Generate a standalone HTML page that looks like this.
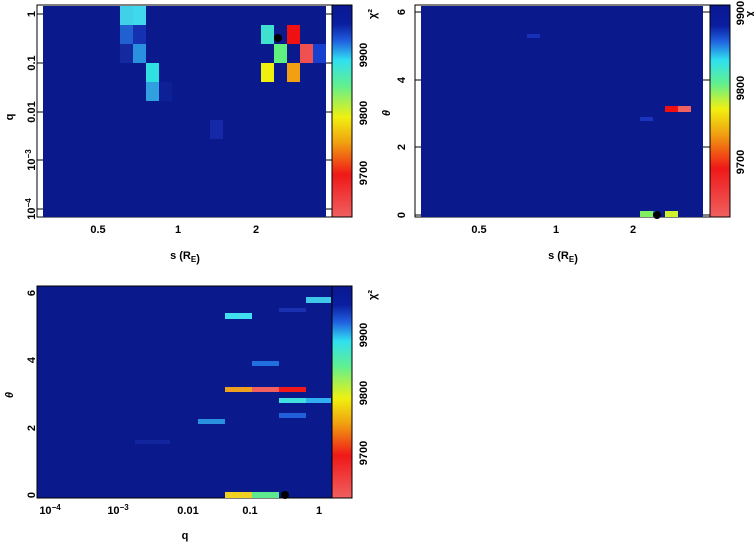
<!DOCTYPE html>
<html><head><meta charset="utf-8"><style>
body{margin:0;background:#fff;width:754px;height:542px;overflow:hidden}
svg text{font-family:"Liberation Sans",sans-serif;font-weight:bold;font-size:11px;fill:#000}
</style></head><body>
<svg width="754" height="542" viewBox="0 0 754 542" xmlns="http://www.w3.org/2000/svg">
<defs>
<linearGradient id="cb1" x1="0" y1="0" x2="0" y2="1">
<stop offset="0" stop-color="#0a1890"/><stop offset="0.09" stop-color="#0a1ea0"/>
<stop offset="0.17" stop-color="#2060e0"/><stop offset="0.26" stop-color="#30e0f0"/>
<stop offset="0.38" stop-color="#60f090"/><stop offset="0.53" stop-color="#f0f010"/>
<stop offset="0.65" stop-color="#f0a010"/><stop offset="0.8" stop-color="#f01818"/>
<stop offset="1" stop-color="#f06060"/></linearGradient>
<linearGradient id="cb2" x1="0" y1="0" x2="0" y2="1">
<stop offset="0" stop-color="#0a1890"/><stop offset="0.1" stop-color="#0a1ea0"/>
<stop offset="0.17" stop-color="#2060e0"/><stop offset="0.26" stop-color="#30e0f0"/>
<stop offset="0.37" stop-color="#60f090"/><stop offset="0.49" stop-color="#f0f010"/>
<stop offset="0.61" stop-color="#f0a010"/><stop offset="0.77" stop-color="#f01818"/>
<stop offset="1" stop-color="#f06060"/></linearGradient>
</defs>
<!-- Panel 1 -->
<rect x="37" y="5" width="295" height="212" fill="#fff" stroke="#000"/>
<rect x="43" y="6" width="283" height="211" fill="#0a1a8c"/>
<rect x="120" y="6" width="13" height="19" fill="#40d0e8"/><rect x="133" y="6" width="13" height="19" fill="#40d8ec"/>
<rect x="120" y="25" width="13" height="19" fill="#2060d0"/><rect x="133" y="25" width="13" height="19" fill="#1530b0"/>
<rect x="120" y="44" width="13" height="19" fill="#1428a0"/><rect x="133" y="44" width="13" height="19" fill="#2a90e0"/>
<rect x="146" y="63" width="13" height="19" fill="#30e0e0"/><rect x="146" y="82" width="13" height="19" fill="#30a0e0"/>
<rect x="159" y="82" width="13" height="19" fill="#0e2095"/>
<rect x="210" y="120" width="13" height="19" fill="#1428a8"/>
<rect x="261" y="25" width="13" height="19" fill="#40e0d0"/><rect x="287" y="25" width="13" height="19" fill="#f01010"/>
<rect x="274" y="44" width="13" height="19" fill="#60f080"/><rect x="300" y="44" width="13" height="19" fill="#f05050"/><rect x="313" y="44" width="13" height="19" fill="#1840d0"/>
<rect x="261" y="63" width="13" height="19" fill="#f0f010"/><rect x="287" y="63" width="13" height="19" fill="#f0a010"/>
<circle cx="278" cy="38" r="4" fill="#000"/>
<rect x="332" y="5" width="20" height="212" fill="url(#cb1)" stroke="#000"/>
<g stroke="#000"><line x1="37" y1="14" x2="43" y2="14"/><line x1="37" y1="63" x2="43" y2="63"/><line x1="37" y1="112" x2="43" y2="112"/><line x1="37" y1="160" x2="43" y2="160"/><line x1="37" y1="209" x2="43" y2="209"/>
<line x1="326" y1="14" x2="332" y2="14"/><line x1="326" y1="63" x2="332" y2="63"/><line x1="326" y1="112" x2="332" y2="112"/><line x1="326" y1="160" x2="332" y2="160"/><line x1="326" y1="209" x2="332" y2="209"/></g>
<g text-anchor="middle">
<text transform="translate(31,14) rotate(-90)" dy="4">1</text>
<text transform="translate(31,63) rotate(-90)" dy="4">0.1</text>
<text transform="translate(31,112) rotate(-90)" dy="4">0.01</text>
<text transform="translate(31,160) rotate(-90)" dy="4">10<tspan font-size="8" dy="-4">−3</tspan></text>
<text transform="translate(31,209) rotate(-90)" dy="4">10<tspan font-size="8" dy="-4">−4</tspan></text>
<text transform="translate(9,117) rotate(-90)" dy="4">q</text>
<text x="98" y="233">0.5</text><text x="178" y="233">1</text><text x="256" y="233">2</text>
<text x="185" y="259">s (R<tspan font-size="8" dy="3">E</tspan>)</text>
<text transform="translate(363,55) rotate(-90)" dy="4" font-size="9">9900</text>
<text transform="translate(363,113) rotate(-90)" dy="4" font-size="9">9800</text>
<text transform="translate(363,173) rotate(-90)" dy="4" font-size="9">9700</text>
<text transform="translate(372,14) rotate(-90)" dy="4">χ²</text>
</g>
<!-- Panel 2 -->
<rect x="415" y="5" width="295" height="212" fill="#fff" stroke="#000"/>
<rect x="421" y="6" width="282" height="211" fill="#0a1a8c"/>
<rect x="527" y="34" width="13" height="4" fill="#1830b8"/>
<rect x="640" y="117" width="13" height="4" fill="#1a34c0"/>
<rect x="665" y="106" width="13" height="6" fill="#f01010"/><rect x="678" y="106" width="13" height="6" fill="#f06060"/>
<rect x="640" y="211" width="13" height="6" fill="#80f060"/><rect x="653" y="211" width="5" height="6" fill="#2080e0"/><rect x="665" y="211" width="13" height="6" fill="#d0f030"/>
<circle cx="657" cy="215" r="4" fill="#000"/>
<rect x="710" y="5" width="20" height="212" fill="url(#cb2)" stroke="#000"/>
<g stroke="#000"><line x1="415" y1="12" x2="421" y2="12"/><line x1="415" y1="80" x2="421" y2="80"/><line x1="415" y1="147" x2="421" y2="147"/><line x1="415" y1="215" x2="421" y2="215"/>
<line x1="703" y1="12" x2="710" y2="12"/><line x1="703" y1="80" x2="710" y2="80"/><line x1="703" y1="147" x2="710" y2="147"/><line x1="703" y1="215" x2="710" y2="215"/></g>
<g text-anchor="middle">
<text transform="translate(401,12) rotate(-90)" dy="4">6</text>
<text transform="translate(401,80) rotate(-90)" dy="4">4</text>
<text transform="translate(401,147) rotate(-90)" dy="4">2</text>
<text transform="translate(401,215) rotate(-90)" dy="4">0</text>
<text transform="translate(386,113) rotate(-90)" dy="4" font-style="italic">θ</text>
<text x="479" y="233">0.5</text><text x="556" y="233">1</text><text x="633" y="233">2</text>
<text x="563" y="259">s (R<tspan font-size="8" dy="3">E</tspan>)</text>
<text transform="translate(740,13) rotate(-90)" dy="4" font-size="9">9900</text>
<text transform="translate(740,88) rotate(-90)" dy="4" font-size="9">9800</text>
<text transform="translate(740,162) rotate(-90)" dy="4" font-size="9">9700</text>
<text transform="translate(749,14) rotate(-90)" dy="4">χ</text>
</g>
<!-- Panel 3 -->
<rect x="37" y="286" width="295" height="212" fill="#0a1a8c" stroke="#000"/>
<rect x="306" y="297" width="25" height="6" fill="#40c8e8"/>
<rect x="279" y="308" width="27" height="4" fill="#1a30b0"/>
<rect x="225" y="313" width="27" height="6" fill="#40e0f0"/>
<rect x="252" y="361" width="27" height="5" fill="#2070e0"/>
<rect x="225" y="387" width="27" height="5" fill="#f0a020"/><rect x="252" y="387" width="27" height="5" fill="#f06060"/><rect x="279" y="387" width="27" height="5" fill="#f01818"/>
<rect x="279" y="398" width="27" height="5" fill="#40e0e0"/><rect x="306" y="398" width="25" height="5" fill="#30b0f0"/>
<rect x="279" y="413" width="27" height="5" fill="#2060d8"/>
<rect x="198" y="419" width="27" height="5" fill="#2a90e0"/>
<rect x="135" y="440" width="35" height="4" fill="#12259c"/>
<rect x="225" y="492" width="27" height="6" fill="#f0d020"/><rect x="252" y="492" width="27" height="6" fill="#60e890"/>
<circle cx="285" cy="495" r="4" fill="#000"/>
<rect x="332" y="286" width="20" height="212" fill="url(#cb1)" stroke="#000"/>
<g text-anchor="middle">
<text transform="translate(31,293) rotate(-90)" dy="4">6</text>
<text transform="translate(31,360) rotate(-90)" dy="4">4</text>
<text transform="translate(31,428) rotate(-90)" dy="4">2</text>
<text transform="translate(31,495) rotate(-90)" dy="4">0</text>
<text transform="translate(9,395) rotate(-90)" dy="4" font-style="italic">θ</text>
<text x="50" y="514">10<tspan font-size="8" dy="-4">−4</tspan></text>
<text x="118" y="514">10<tspan font-size="8" dy="-4">−3</tspan></text>
<text x="188" y="514">0.01</text><text x="250" y="514">0.1</text><text x="319" y="514">1</text>
<text x="185" y="539">q</text>
<text transform="translate(363,335) rotate(-90)" dy="4" font-size="9">9900</text>
<text transform="translate(363,393) rotate(-90)" dy="4" font-size="9">9800</text>
<text transform="translate(363,453) rotate(-90)" dy="4" font-size="9">9700</text>
<text transform="translate(372,295) rotate(-90)" dy="4">χ²</text>
</g>
</svg>
</body></html>
